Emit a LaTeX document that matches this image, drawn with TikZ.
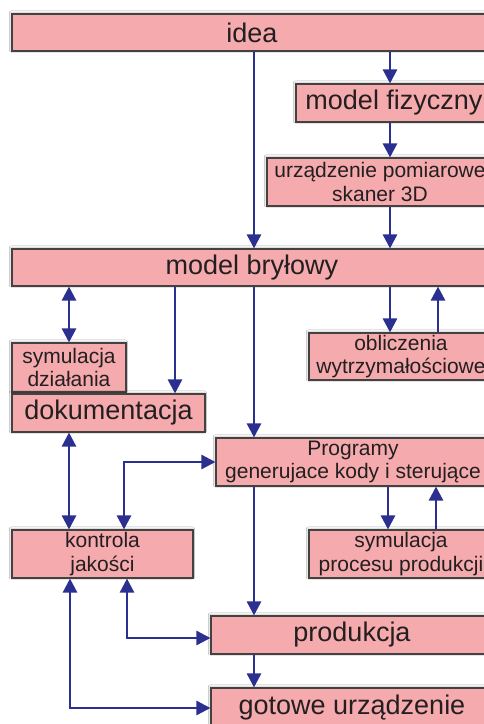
\documentclass[tikz,border=0pt]{standalone}
\usepackage{fontspec}
\setmainfont{Liberation Sans}
\usetikzlibrary{arrows.meta,shadows.blur}
\definecolor{boxfill}{HTML}{F5AAAD}
\definecolor{arrblue}{HTML}{2B3090}
\definecolor{txt}{HTML}{231F20}
\tikzset{
  box/.style={draw=txt!85, line width=1.1pt, fill=boxfill, text=txt, inner sep=0pt, align=center,
    blur shadow={shadow xshift=-0.6pt, shadow yshift=1pt, shadow blur steps=6, shadow opacity=35}},
  big/.style={box, font=\fontsize{27}{29}\selectfont},
  small/.style={box, font=\fontsize{21}{23.5}\selectfont},
  arr/.style={draw=arrblue, line width=2.6pt, -{Triangle[length=14pt,width=14pt]}},
  darr/.style={draw=arrblue, line width=2.6pt, {Triangle[length=14pt,width=14pt]}-{Triangle[length=14pt,width=14pt]}},
}
\begin{document}
\begin{tikzpicture}[x=1pt,y=-1pt]
\useasboundingbox (0,0) rectangle (484,724);
\clip (0,0) rectangle (484,724);
\fill[white] (0,0) rectangle (484,724);
% boxes
\node[big, minimum width=480pt, minimum height=37pt] (idea) at (252,32.5) {idea};
\node[big, minimum width=196pt, minimum height=38pt] (fiz) at (394,103) {model fizyczny};
\node[small, minimum width=226pt, minimum height=48pt] (urz) at (380,182) {urządzenie pomiarowe\\skaner 3D};
\node[big, minimum width=480pt, minimum height=37pt] (bryl) at (252,267.5) {model bryłowy};
\node[small, minimum width=114pt, minimum height=49pt] (sym) at (69,367.5) {symulacja\\działania};
\node[big, minimum width=193pt, minimum height=38pt] (dok) at (108.5,413) {dokumentacja};
\node[small, minimum width=184pt, minimum height=47pt] (obl) at (401,356.5) {obliczenia\\wytrzymałościowe};
\node[small, minimum width=274pt, minimum height=48pt] (prog) at (353,462) {Programy\\generujace kody i sterujące};
\node[small, minimum width=181pt, minimum height=48pt] (kon) at (102.5,554) {kontrola\\jakości};
\node[small, minimum width=184pt, minimum height=48pt] (symp) at (401,554) {symulacja\\procesu produkcji};
\node[big, minimum width=282pt, minimum height=38pt] (prod) at (352,635) {produkcja};
\node[big, minimum width=282pt, minimum height=40pt] (got) at (352,708) {gotowe urządzenie};
% x positions of connectors
\coordinate (xA) at (254,0);
\coordinate (xB) at (390,0);
\coordinate (xC) at (438,0);
\coordinate (xD) at (69,0);
\coordinate (xE) at (175,0);
\coordinate (xF) at (124,0);
\coordinate (xG) at (388,0);
\coordinate (xH) at (436,0);
\coordinate (xI) at (127,0);
\coordinate (xJ) at (70,0);
% connectors
\draw[arr] (idea.south -| xA) -- (bryl.north -| xA);
\draw[arr] (idea.south -| xB) -- (fiz.north -| xB);
\draw[arr] (fiz.south -| xB) -- (urz.north -| xB);
\draw[arr] (urz.south -| xB) -- (bryl.north -| xB);
\draw[darr] (bryl.south -| xD) -- (sym.north -| xD);
\draw[arr] (bryl.south -| xE) -- (dok.north -| xE);
\draw[arr] (bryl.south -| xA) -- (prog.north -| xA);
\draw[arr] (bryl.south -| xB) -- (obl.north -| xB);
\draw[arr] (obl.north -| xC) -- (bryl.south -| xC);
\draw[darr] (dok.south -| xD) -- (kon.north -| xD);
\draw[darr] (kon.north -| xF) |- (prog.west);
\draw[arr] (prog.south -| xA) -- (prod.north -| xA);
\draw[arr] (prog.south -| xG) -- (symp.north -| xG);
\draw[arr] (symp.north -| xH) -- (prog.south -| xH);
\draw[arr] (prod.south -| xA) -- (got.north -| xA);
\draw[darr] (kon.south -| xI) |- ([yshift=-3pt]prod.west);
\draw[darr] (kon.south -| xJ) |- (got.west);
\end{tikzpicture}
\end{document}
